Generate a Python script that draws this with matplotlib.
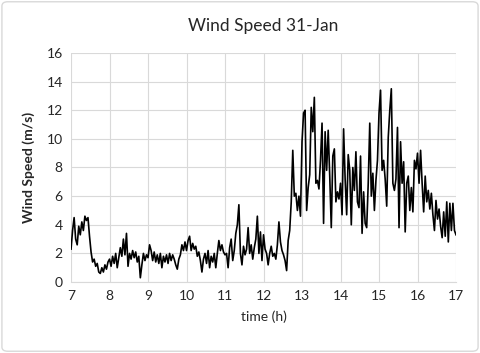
import numpy as np
import matplotlib
matplotlib.use("Agg")
import matplotlib.pyplot as plt
from matplotlib.patches import FancyBboxPatch

plt.rcParams['font.family'] = ['Lato', 'DejaVu Sans']

# wind speed (m/s), one reading every 0.04 h from 07:00 to 17:00
speed_h07 = [2.3, 3.6, 4.5, 3.0, 2.6, 3.9, 3.3, 4.2, 3.6, 4.6, 4.3, 4.5, 3.2,
             2.1, 1.4, 1.6, 1.1, 1.3, 0.7, 0.6, 1.0, 0.7, 1.2, 0.9, 1.4]
speed_h08 = [1.6, 1.1, 1.8, 1.3, 2.0, 1.0, 1.7, 2.4, 1.8, 3.0, 1.9, 3.4, 1.1,
             2.0, 1.6, 2.2, 1.7, 2.1, 1.4, 1.8, 0.3, 1.2, 2.0, 1.5, 1.9]
speed_h09 = [1.7, 2.6, 2.2, 1.5, 2.1, 1.4, 1.9, 1.3, 2.0, 1.0, 1.8, 1.4, 1.9,
             1.3, 2.0, 1.5, 1.9, 1.6, 1.2, 0.9, 1.6, 1.9, 2.6, 2.2, 2.8]
speed_h10 = [2.2, 2.9, 3.2, 2.2, 2.7, 2.3, 2.5, 1.8, 2.1, 1.5, 0.7, 1.6, 2.0,
             1.3, 2.2, 1.0, 1.8, 1.4, 2.0, 1.0, 2.0, 2.9, 2.2, 2.6, 2.1]
speed_h11 = [1.9, 2.0, 1.0, 2.4, 3.0, 1.5, 2.2, 3.4, 4.0, 5.4, 2.0, 1.2, 2.5,
             1.9, 2.3, 3.8, 2.0, 2.6, 1.6, 2.4, 3.0, 4.6, 2.0, 3.5, 1.5]
speed_h12 = [3.3, 2.3, 2.0, 1.2, 2.0, 2.5, 1.8, 2.0, 1.6, 2.6, 4.2, 2.8, 2.2,
             1.9, 1.5, 0.8, 2.9, 3.6, 5.6, 9.2, 6.0, 6.2, 5.0, 6.0, 4.6]
speed_h13 = [9.8, 11.8, 12.0, 5.0, 6.6, 7.5, 12.2, 10.5, 12.9, 6.9, 7.1, 6.5,
             8.5, 11.1, 4.1, 10.5, 7.8, 10.6, 7.4, 3.8, 8.8, 9.3, 5.6, 6.3, 5.8]
speed_h14 = [6.9, 4.7, 10.7, 7.2, 4.7, 8.9, 7.8, 4.0, 8.0, 6.4, 9.1, 5.6, 5.2,
             8.8, 3.4, 6.3, 4.1, 3.8, 6.9, 11.1, 6.0, 7.6, 5.0, 7.1, 8.5]
speed_h15 = [11.8, 13.4, 7.8, 8.5, 7.2, 5.3, 10.1, 12.0, 13.5, 6.9, 6.4, 7.2,
             10.8, 3.8, 9.8, 6.9, 8.4, 3.5, 6.9, 7.4, 5.0, 6.6, 4.9, 8.5, 7.9]
speed_h16 = [9.0, 6.9, 9.2, 6.9, 4.9, 7.4, 5.6, 6.4, 5.1, 6.2, 4.7, 3.6, 5.7,
             4.4, 5.1, 3.9, 3.1, 4.9, 3.2, 5.6, 2.8, 5.5, 3.6, 5.5, 3.6, 3.3]

speed = (speed_h07 + speed_h08 + speed_h09 + speed_h10 + speed_h11 +
         speed_h12 + speed_h13 + speed_h14 + speed_h15 + speed_h16)
hours = np.linspace(7, 17, len(speed))

x_ticks = list(range(7, 18))
y_ticks = list(range(0, 17, 2))

fig = plt.figure(figsize=(4.8, 3.53), dpi=100)
ax = fig.add_axes([0.148, 0.201, 0.802, 0.649])

ax.plot(hours, speed, color='black', lw=1.2)

ax.set_xlim(7, 17)
ax.set_ylim(0, 16)
ax.set_xticks(x_ticks)
ax.set_yticks(y_ticks)
ax.grid(True, color='#d9d9d9', lw=0.8)
ax.set_axisbelow(True)
for side in ['top', 'right', 'left']:
    ax.spines[side].set_visible(False)
ax.spines['bottom'].set_color('#d9d9d9')
ax.tick_params(length=0, labelsize=10, colors='#262626', pad=6)

ax.set_title('Wind Speed 31-Jan', fontsize=12.5, color='#262626', pad=16)
ax.set_xlabel('time (h)', fontsize=10, color='#262626', labelpad=6)
ax.set_ylabel('Wind Speed (m/s)', fontsize=10, fontweight='bold',
              color='#262626', labelpad=8)

# light rounded frame round the whole chart
fig.patches.append(FancyBboxPatch((0.004, 0.005), 0.992, 0.99,
                                  boxstyle='round,pad=0,rounding_size=0.012',
                                  transform=fig.transFigure, fill=False,
                                  edgecolor='#d9d9d9', lw=1.0))

fig.savefig('out.png', dpi=100)
